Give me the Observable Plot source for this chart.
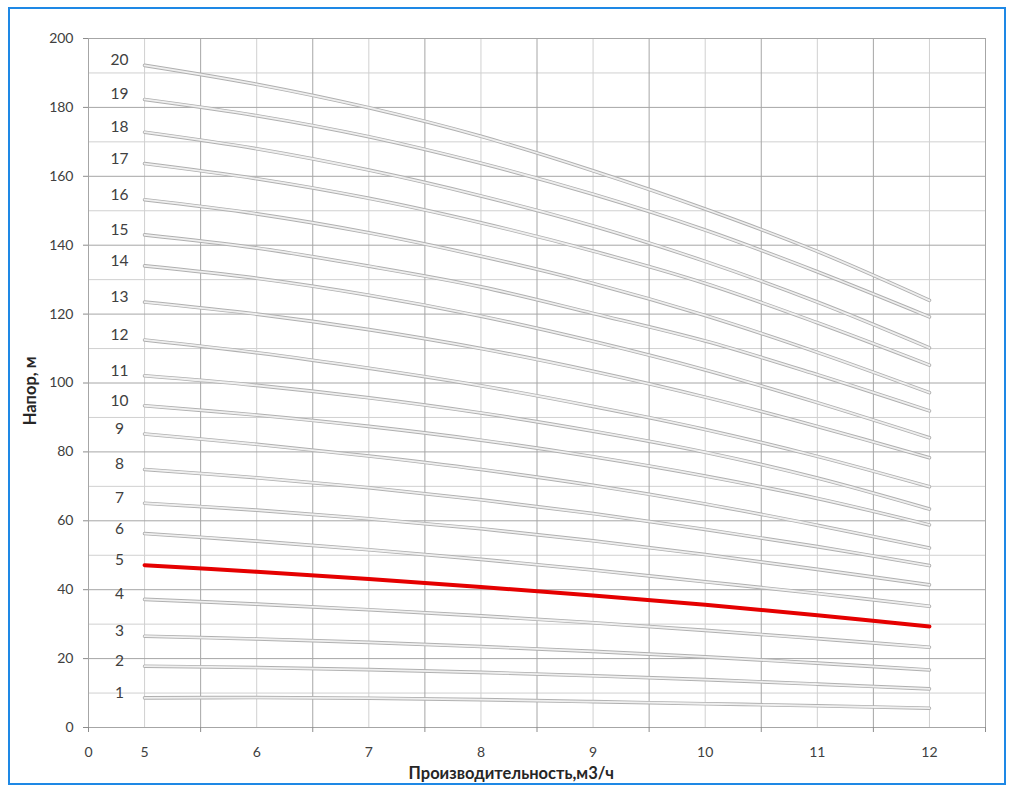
<!DOCTYPE html>
<html>
<head>
<meta charset="utf-8">
<script src="https://cdn.jsdelivr.net/npm/d3@7"></script>
<script src="https://cdn.jsdelivr.net/npm/@observablehq/plot@0.6"></script>
<style>
  html, body { margin: 0; padding: 0; background: #fff; }
  #wrap { position: relative; width: 1013px; height: 794px; overflow: hidden; }
  #frame { position: absolute; left: 8px; top: 7px; width: 994px; height: 774px; border: 2px solid #1e88e5; pointer-events: none; }
  #chart { position: absolute; left: 0; top: 0; }
</style>
</head>
<body>
<div id="wrap"><div id="chart"></div><div id="frame"></div></div>
<script>
// Flow rate, m3/h
const flows = [5, 6, 7, 8, 9, 10, 11, 12];
// Head (m) for pump stage counts 1..20
const head1  = [8.6, 8.7, 8.5, 8.1, 7.5, 6.9, 6.3, 5.6];
const head2  = [17.8, 17.4, 16.8, 16.0, 15.0, 13.9, 12.6, 11.2];
const head3  = [26.5, 25.7, 24.7, 23.5, 22.1, 20.5, 18.7, 16.7];
const head4  = [37.2, 35.8, 34.2, 32.4, 30.4, 28.2, 25.8, 23.3];
const head5  = [47.1, 45.2, 43.1, 40.8, 38.3, 35.6, 32.6, 29.3];
const head6  = [56.3, 54.1, 51.6, 48.8, 45.7, 42.3, 38.9, 35.2];
const head7  = [65.1, 63.1, 60.6, 57.7, 54.2, 50.2, 45.9, 41.4];
const head8  = [74.9, 72.5, 69.6, 66.1, 62.1, 57.5, 52.5, 47.0];
const head9  = [85.2, 82.2, 78.8, 74.9, 70.3, 64.9, 58.7, 52.1];
const head10 = [93.4, 90.7, 87.4, 83.4, 78.6, 73.0, 66.5, 58.8];
const head11 = [102.1, 99.3, 95.7, 91.3, 86.0, 79.9, 72.4, 63.4];
const head12 = [112.5, 108.8, 104.3, 99.2, 93.2, 86.5, 78.7, 69.9];
const head13 = [123.5, 120.0, 115.5, 110.0, 103.4, 95.9, 87.4, 78.3];
const head14 = [134.0, 130.4, 125.5, 119.4, 112.1, 103.8, 94.3, 84.1];
const head15 = [143.0, 139.2, 133.9, 127.9, 120.2, 112.2, 102.4, 91.9];
const head16 = [153.2, 149.1, 143.6, 136.8, 128.9, 119.6, 108.9, 97.2];
const head17 = [163.7, 159.3, 153.6, 146.5, 138.3, 128.9, 117.5, 105.2];
const head18 = [172.8, 168.0, 161.8, 154.3, 145.6, 135.3, 123.5, 110.2];
const head19 = [182.3, 177.6, 171.5, 163.8, 154.8, 144.4, 132.3, 119.2];
const head20 = [192.2, 186.7, 179.9, 171.6, 161.6, 150.5, 138.2, 124.0];
const curveNames = ["1","2","3","4","5","6","7","8","9","10","11","12","13","14","15","16","17","18","19","20"];
const heads = [head1, head2, head3, head4, head5, head6, head7, head8, head9, head10,
               head11, head12, head13, head14, head15, head16, head17, head18, head19, head20];
const highlighted = "5";
// Axis tick labels (category-style axis: "0" sits at the first gridline)
const xTickPositions = [4.5, 5, 6, 7, 8, 9, 10, 11, 12];
const xTickLabels = ["0", "5", "6", "7", "8", "9", "10", "11", "12"];
const yTicks = [0, 20, 40, 60, 80, 100, 120, 140, 160, 180, 200];
const xTitle = "Производительность,м3/ч";
const yTitle = "Напор, м";

const rows = [];
curveNames.forEach((name, i) => flows.forEach((q, j) => rows.push({name, q, h: heads[i][j]})));
const grayRows = rows.filter(d => d.name !== highlighted);
const redRows = rows.filter(d => d.name === highlighted);
const labelRows = curveNames.map((name, i) => ({name, q: flows[0], h: heads[i][0]}));

const xMinor = d3.range(5, 12.01, 1);
const xMajor = d3.range(4.5, 12.51, 1);
const yMinor = d3.range(10, 200, 20);
const yMajor = d3.range(0, 200.1, 20);

const font = "Lato, 'Open Sans', sans-serif";

const chart = Plot.plot({
  width: 1013,
  height: 794,
  marginLeft: 88,
  marginRight: 28,
  marginTop: 38,
  marginBottom: 67,
  style: {fontFamily: font, background: "transparent"},
  x: {type: "linear", domain: [4.5, 12.5], axis: null},
  y: {type: "linear", domain: [0, 200], axis: null},
  marks: [
    Plot.ruleX(xMinor, {x: d => d, y1: 0, y2: 200, stroke: "#d0d0d0", strokeWidth: 1}),
    Plot.ruleY(yMinor, {y: d => d, x1: 4.5, x2: 12.5, stroke: "#d0d0d0", strokeWidth: 1}),
    Plot.ruleX(xMajor, {x: d => d, y1: 0, y2: 200, stroke: "#a6a6a6", strokeWidth: 1}),
    Plot.ruleY(yMajor, {y: d => d, x1: 4.5, x2: 12.5, stroke: "#a6a6a6", strokeWidth: 1}),
    // tick marks
    Plot.ruleX(xMajor, {x: d => d, y1: 0, y2: 0, insetBottom: -5, stroke: "#8c8c8c"}),
    Plot.ruleY(yTicks, {y: d => d, x1: 4.5, x2: 4.5, insetLeft: -5, stroke: "#8c8c8c"}),
    // pump curves
    Plot.line(grayRows, {x: "q", y: "h", z: "name", curve: "catmull-rom", stroke: "#b0b0b0", strokeWidth: 3.6, strokeLinecap: "round"}),
    Plot.line(grayRows, {x: "q", y: "h", z: "name", curve: "catmull-rom", stroke: "#efefef", strokeWidth: 1.8, strokeLinecap: "round"}),
    Plot.line(redRows, {x: "q", y: "h", curve: "catmull-rom", stroke: "#e50000", strokeWidth: 4}),
    // curve labels
    Plot.text(labelRows, {x: "q", y: "h", text: "name", dx: -25, dy: -5, fontSize: 15.5, fill: "#404040", textAnchor: "middle"}),
    // axis labels
    Plot.text(xTickPositions, {x: d => d, y: 0, text: (d, i) => xTickLabels[i], dy: 25, fontSize: 14, fill: "#404040"}),
    Plot.text(yTicks, {x: 4.5, y: d => d, text: d => String(d), dx: -15, textAnchor: "end", fontSize: 14, fill: "#404040"}),
    // titles
    Plot.text([xTitle], {x: 8.27, y: 0, text: d => d, dy: 46, fontSize: 16.5, fontWeight: "bold", fill: "#262626"}),
    Plot.text([yTitle], {x: 4.5, y: 97.7, text: d => d, dx: -58, rotate: -90, fontSize: 16.5, fontWeight: "bold", fill: "#262626"})
  ]
});
document.getElementById("chart").appendChild(chart);
</script>
</body>
</html>
